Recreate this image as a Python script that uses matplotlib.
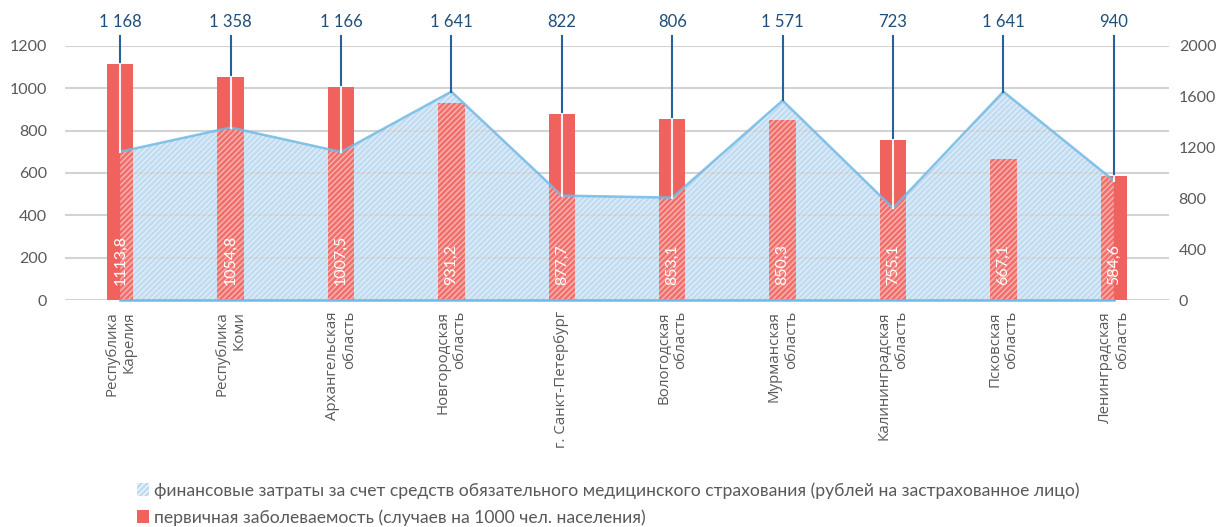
import numpy as np
import matplotlib.pyplot as plt
from matplotlib.patches import Patch, Polygon

# данные
regions = ["Республика\nКарелия", "Республика\nКоми", "Архангельская\nобласть",
           "Новгородская\nобласть", "г. Санкт-Петербург", "Вологодская\nобласть",
           "Мурманская\nобласть", "Калининградская\nобласть", "Псковская\nобласть",
           "Ленинградская\nобласть"]
morbidity = [1113.8, 1054.8, 1007.5, 931.2, 877.7, 853.1, 850.3, 755.1, 667.1, 584.6]
oms_costs = [1168, 1358, 1166, 1641, 822, 806, 1571, 723, 1641, 940]

left_ticks = [0, 200, 400, 600, 800, 1000, 1200]
right_ticks = [0, 400, 800, 1200, 1600, 2000]

label_area = "финансовые затраты за счет средств обязательного медицинского страхования (рублей на застрахованное лицо)"
label_bar = "первичная заболеваемость (случаев на 1000 чел. населения)"

bar_color = "#f0625e"
area_fill = "#bcdaf0"
area_line = "#72bae6"
lead_color = "#2a6099"
text_gray = "#595959"

plt.rcParams['font.family'] = ['Lato', 'DejaVu Sans']

fig = plt.figure(figsize=(12.27, 5.27), dpi=100)
ax = fig.add_axes([65 / 1227, 1 - 300 / 527, 1104 / 1227, 254 / 527])
ax2 = ax.twinx()
# столбцы поверх области
ax.set_zorder(ax2.get_zorder() + 1)
ax.patch.set_visible(False)

x = np.arange(len(regions))

# область (правая ось)
ax2.set_ylim(0, 2000)
ax2.set_yticks(right_ticks)
for s in ax2.spines.values():
    s.set_visible(False)
ax2.tick_params(axis='y', length=0, pad=7, labelsize=11.5, labelcolor=text_gray)
ax2.fill_between(x, 0, oms_costs, facecolor=area_fill, linewidth=0, zorder=1)

# столбцы (левая ось)
ax.set_ylim(0, 1200)
ax.set_xlim(-0.5, len(regions) - 0.5)
ax.set_yticks(left_ticks)
ax.grid(axis='y', color='#c8c8c8', linewidth=1.5, alpha=0.8, zorder=0)
ax.set_axisbelow(True)
for s in ax.spines.values():
    s.set_visible(False)
ax.tick_params(axis='y', length=0, pad=13, labelsize=11.5, labelcolor=text_gray)
ax.set_xticks(x)
ax.set_xticklabels(regions, rotation=90, ha='center', va='top', multialignment='right',
                   family=['Open Sans', 'DejaVu Sans'], fontsize=10.8, color=text_gray)
ax.tick_params(axis='x', length=0, pad=8)

ax.bar(x, morbidity, width=0.24, color=bar_color, zorder=2)

# штриховка области поверх столбцов
poly = np.vstack([np.column_stack([x, oms_costs]), [[x[-1], 0], [x[0], 0]]])
ax.add_patch(Polygon(poly, closed=True, transform=ax2.transData,
                     facecolor=(1, 1, 1, 0.08), hatch='//////',
                     edgecolor=(1, 1, 1, 0.5), linewidth=0, zorder=3))
ax.plot(x, oms_costs, color=area_line, linewidth=1.8, alpha=0.85,
        transform=ax2.transData, zorder=3)
ax.plot([x[0], x[-1]], [0, 0], color=area_line, linewidth=1.8,
        transform=ax2.transData, zorder=3, clip_on=False)

for xi, v in zip(x, morbidity):
    ax.annotate(f"{v:.1f}".replace(".", ","), xy=(xi, 0), xytext=(0, 11),
                textcoords='offset points', rotation=90, ha='center', va='bottom',
                color='white', fontsize=11.5, zorder=5)

# выноски
y_top = 2000 * (1 + 10 / 254)
y_lab = 2000 * (1 + 24 / 254)
scale = 2000 / 1200
for xi, v, b in zip(x, oms_costs, morbidity):
    bar_top = b * scale
    upper = max(bar_top, v)
    ax.plot([xi, xi], [y_top, upper], color=lead_color, linewidth=1.5, clip_on=False,
            transform=ax2.transData, zorder=4)
    if bar_top > v:
        ax.plot([xi, xi], [bar_top, v], color='white', linewidth=1.5, alpha=0.9,
                transform=ax2.transData, zorder=4)
    ax.text(xi, y_lab, f"{v:,}".replace(",", " "), ha='center', va='center',
            color='#1f4e79', fontsize=12, clip_on=False, transform=ax2.transData)

handles = [Patch(facecolor=area_fill, hatch='//////', edgecolor=(1, 1, 1, 0.8), linewidth=0),
           Patch(facecolor=bar_color, linewidth=0)]
fig.legend(handles, [label_area, label_bar], loc='upper left',
           bbox_to_anchor=(137 / 1227, 1 - 482 / 527), frameon=False,
           handlelength=0.7, handleheight=0.7, handletextpad=0.3,
           labelspacing=0.6, fontsize=12.6, labelcolor=text_gray, borderaxespad=0, borderpad=0)

fig.savefig("out.png", dpi=100)
